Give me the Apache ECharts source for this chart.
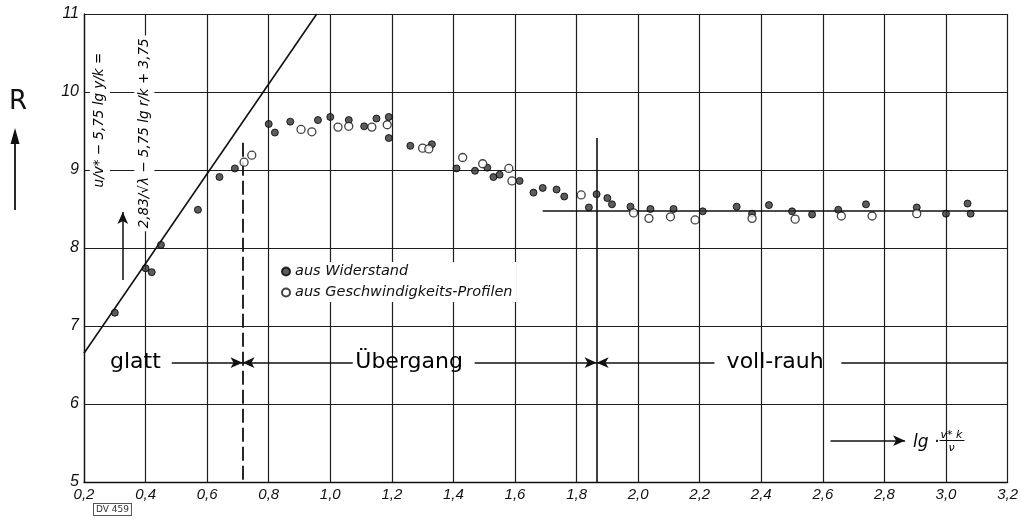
<!DOCTYPE html>
<html>
<head>
<meta charset="utf-8">
<script src="https://cdn.jsdelivr.net/npm/echarts@6/dist/echarts.min.js"></script>
<style>
  html, body { margin: 0; padding: 0; background: #fff; }
  #chart { width: 1021px; height: 522px; }
</style>
</head>
<body>
<div id="chart"></div>
<script>
// Axis ranges (lg v*k/nu on x, roughness function R on y)
const xRange = [0.2, 3.2];
const xStep = 0.2;
const yRange = [5, 11];
const yStep = 1;

// Measurements derived from pipe resistance (filled markers)
const widerstand = [
  [0.30, 7.17], [0.40, 7.74], [0.42, 7.69], [0.45, 8.04], [0.57, 8.49],
  [0.64, 8.91], [0.69, 9.02], [0.80, 9.59], [0.82, 9.48], [0.87, 9.62],
  [0.96, 9.64], [1.00, 9.68], [1.06, 9.64], [1.11, 9.56], [1.15, 9.66],
  [1.19, 9.68], [1.19, 9.41], [1.26, 9.31], [1.33, 9.33], [1.41, 9.02],
  [1.47, 8.99], [1.51, 9.03], [1.53, 8.91], [1.55, 8.94], [1.615, 8.86],
  [1.66, 8.71], [1.69, 8.77], [1.735, 8.75], [1.76, 8.66], [1.84, 8.52],
  [1.865, 8.69], [1.90, 8.64], [1.915, 8.56], [1.975, 8.53], [2.04, 8.50],
  [2.115, 8.50], [2.21, 8.47], [2.32, 8.53], [2.37, 8.44], [2.425, 8.55],
  [2.50, 8.47], [2.565, 8.43], [2.65, 8.49], [2.74, 8.56], [2.905, 8.52],
  [3.00, 8.44], [3.07, 8.57], [3.08, 8.44]
];

// Measurements derived from velocity profiles (open markers)
const profile = [
  [0.72, 9.10], [0.745, 9.19], [0.905, 9.52], [0.94, 9.49], [1.025, 9.55],
  [1.06, 9.56], [1.135, 9.55], [1.185, 9.58], [1.30, 9.28], [1.32, 9.27],
  [1.43, 9.16], [1.495, 9.08], [1.58, 9.02], [1.59, 8.86], [1.815, 8.68],
  [1.985, 8.45], [2.035, 8.38], [2.105, 8.40], [2.185, 8.36], [2.37, 8.38],
  [2.51, 8.37], [2.66, 8.41], [2.76, 8.41], [2.905, 8.44]
];

// Smooth-wall law (straight line) and fully rough level
const smoothLaw = [[0.2, 6.65], [0.956, 11]];
const roughLevel = [[1.69, 8.48], [3.2, 8.48]];

// Regime boundaries
const boundSmooth = 0.715;
const boundRough = 1.865;

// Regime names and the level of their arrow row
const regimeNames = ['glatt', 'Übergang', 'voll-rauh'];
const regimeCenters = [0.367, 1.256, 2.445];
const regimeLevel = 6.53;

// Legend names
const nameW = 'aus Widerstand';
const nameP = 'aus Geschwindigkeits-Profilen';

// Formula texts along the y axis
const formulaLeft = 'u/v* − 5,75 lg y/k =';
const formulaRight = '2,83/√λ − 5,75 lg r/k + 3,75';

const INK = '#000';
const handFont = '"DejaVu Sans", sans-serif';
const tickFont = '"Liberation Sans Narrow", "Liberation Sans", sans-serif';

const fmtX = v => (Math.round(v * 10) / 10).toFixed(1).replace('.', ',');

function seg(a, b, startSym, endSym, style) {
  const s = { coord: a, symbol: startSym || 'none', symbolSize: [8, 12] };
  const e = { coord: b, symbol: endSym || 'none', symbolSize: [8, 12] };
  if (style) s.lineStyle = style;
  return [s, e];
}

const y = regimeLevel;
const guideLines = [
  // smooth/transition boundary (dashed)
  seg([boundSmooth, 9.35], [boundSmooth, 5], null, null, { type: [14, 5], width: 1.8 }),
  // transition/rough boundary
  seg([boundRough, 9.41], [boundRough, 5], null, null, { width: 1.6 }),
  // fully rough level
  seg(roughLevel[0], roughLevel[1]),
  // regime arrows
  seg([0.485, y], [boundSmooth, y], null, 'arrow'),
  seg([boundSmooth, y], [1.073, y], 'arrow', null),
  seg([1.469, y], [boundRough, y], null, 'arrow'),
  seg([boundRough, y], [2.248, y], 'arrow', null),
  seg([2.66, y], [3.2, y]),
  // arrow under the formulas
  seg([0.326, 7.59], [0.326, 8.46], null, 'arrow'),
  // axis direction arrow at bottom right
  seg([2.625, 5.53], [2.867, 5.53], null, 'arrow'),
  // fraction bar of the axis title
  seg([2.979, 5.53], [3.06, 5.53], null, null, { width: 1 })
];

const textPoint = (x, v, name, extra) => Object.assign({ value: [x, v], name: name }, extra || {});

const chart = echarts.init(document.getElementById('chart'), null, { renderer: 'canvas' });

chart.setOption({
  animation: false,
  backgroundColor: '#fff',
  grid: { left: 84, right: 8, top: 14, bottom: 40 },
  xAxis: {
    type: 'value', min: xRange[0], max: xRange[1], interval: xStep,
    axisLine: { show: true, onZero: false, lineStyle: { color: '#111', width: 1.3 } },
    axisTick: { show: false },
    axisLabel: {
      formatter: fmtX, margin: 5, color: '#111', fontStyle: 'italic',
      fontSize: 15, fontFamily: tickFont
    },
    splitLine: { show: true, lineStyle: { color: '#1e1e1e', width: 1.2 } }
  },
  yAxis: {
    type: 'value', min: yRange[0], max: yRange[1], interval: yStep,
    axisLine: { show: true, onZero: false, lineStyle: { color: '#111', width: 1.3 } },
    axisTick: { show: false },
    axisLabel: {
      margin: 5, color: '#111', fontStyle: 'italic',
      fontSize: 16, fontFamily: tickFont
    },
    splitLine: { show: true, lineStyle: { color: '#1e1e1e', width: 1.2 } }
  },
  legend: {
    data: [nameW, nameP],
    orient: 'vertical',
    left: 279, top: 262,
    itemWidth: 8, itemHeight: 8, itemGap: 6,
    padding: [2, 4, 2, 2],
    backgroundColor: '#fff',
    textStyle: { color: '#111', fontStyle: 'italic', fontSize: 14.5, fontFamily: handFont }
  },
  graphic: [
    { type: 'text', left: 9, top: 89, style: { text: 'R', font: '26px "DejaVu Sans", sans-serif', fill: '#111' } },
    { type: 'line', shape: { x1: 15, y1: 210, x2: 15, y2: 138 }, style: { stroke: '#111', lineWidth: 1.8 } },
    { type: 'polygon', shape: { points: [[15, 128], [10.5, 144], [19.5, 144]] }, style: { fill: '#111' } },
    {
      type: 'text', left: 93, top: 503,
      style: {
        text: 'DV 459', font: '9px "DejaVu Sans", sans-serif', fill: '#333',
        backgroundColor: '#fff', borderColor: '#555', borderWidth: 1, padding: [1, 2]
      }
    }
  ],
  series: [
    {
      name: 'smooth law', type: 'line', data: smoothLaw, symbol: 'none', silent: true,
      lineStyle: { color: '#111', width: 1.6 }, z: 3
    },
    {
      name: 'guides', type: 'line', data: [], silent: true,
      markLine: {
        silent: true, animation: false,
        label: { show: false },
        lineStyle: { color: '#111', width: 1.5, type: 'solid' },
        data: guideLines
      }
    },
    {
      name: nameW, type: 'scatter', data: widerstand, symbol: 'circle', symbolSize: 7,
      itemStyle: { color: '#333', borderColor: '#000', borderWidth: 1 }, z: 5
    },
    {
      name: nameP, type: 'scatter', data: profile, symbol: 'circle', symbolSize: 8,
      itemStyle: { color: '#fff', borderColor: '#111', borderWidth: 1.3 }, z: 5
    },
    {
      name: 'regimes', type: 'scatter', symbolSize: 0, silent: true, z: 6,
      data: regimeNames.map((n, i) => textPoint(regimeCenters[i], regimeLevel, n)),
      label: {
        show: true, position: 'inside', formatter: '{b}', opacity: 1,
        color: INK, fontSize: 22, fontFamily: handFont
      }
    },
    {
      name: 'formulas', type: 'scatter', symbolSize: 0, silent: true, z: 6,
      data: [
        textPoint(0.2515, 9.64, formulaLeft),
        textPoint(0.396, 9.47, formulaRight)
      ],
      label: {
        show: true, position: 'inside', rotate: 90, formatter: '{b}', opacity: 1,
        color: INK, fontStyle: 'italic', fontSize: 13.5, fontFamily: handFont,
        backgroundColor: '#fff', padding: [3, 3]
      }
    },
    {
      name: 'axis title', type: 'scatter', symbolSize: 0, silent: true, z: 6,
      data: [
        textPoint(2.893, 5.50, 'lg ·', { label: { position: 'right', distance: 0, fontSize: 17 } }),
        textPoint(3.018, 5.60, 'v* k', { label: { fontSize: 11 } }),
        textPoint(3.018, 5.44, 'ν', { label: { fontSize: 11 } })
      ],
      label: {
        show: true, position: 'inside', formatter: '{b}', opacity: 1,
        color: INK, fontStyle: 'italic', fontFamily: handFont
      }
    }
  ]
});
</script>
</body>
</html>
